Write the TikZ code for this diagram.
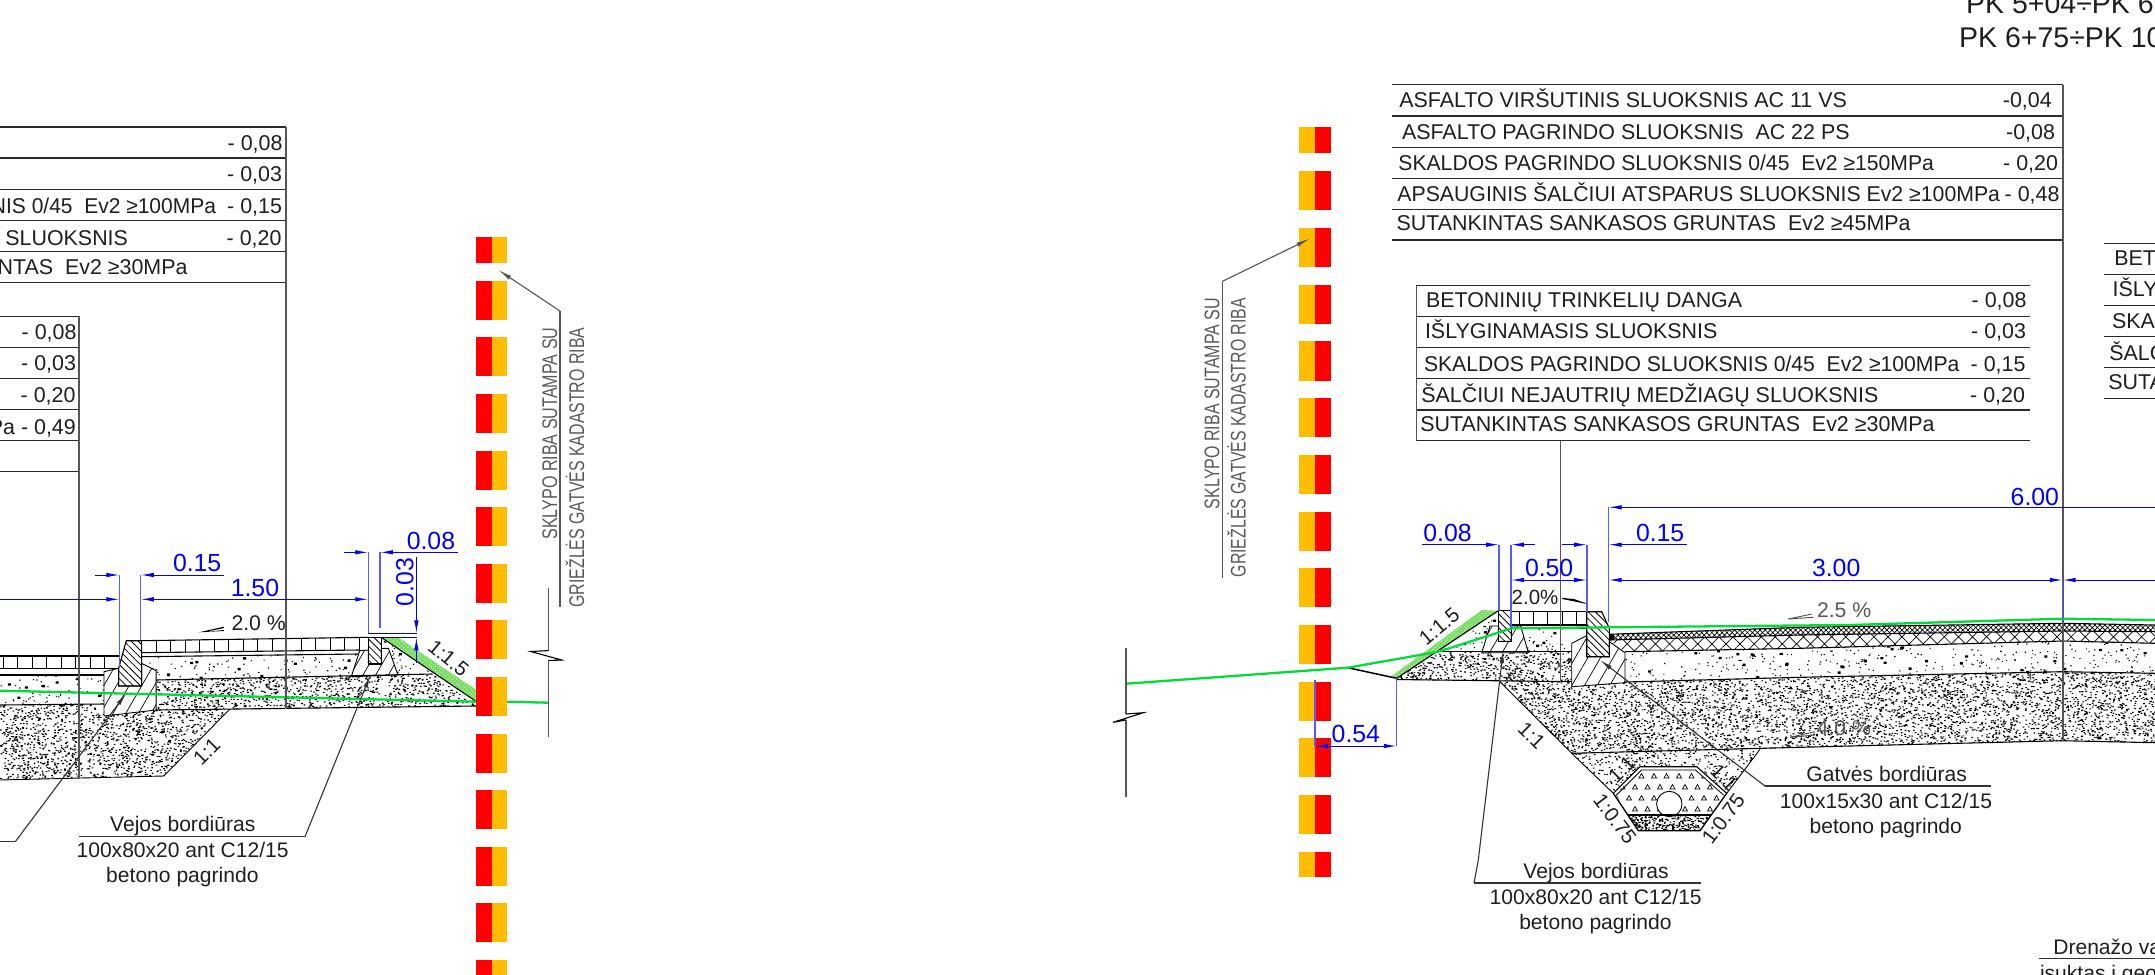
\documentclass[tikz,border=0pt]{standalone}
\usepackage{fontspec}
\usepackage{graphicx}
\setmainfont{Liberation Sans}
\usetikzlibrary{arrows.meta,patterns.meta}
\definecolor{gtxt}{HTML}{5A5A5A}
\definecolor{kline}{HTML}{2A2A2A}
\definecolor{vline}{HTML}{555555}
\definecolor{lime}{HTML}{00DC3A}
\definecolor{bandg}{HTML}{7ADE64}
\definecolor{stripeO}{HTML}{FFBC00}
\definecolor{dimblue}{HTML}{0000FF}
\tikzset{
 txt/.style={inner sep=0pt,outer sep=0pt,font=\fontsize{21.5}{21.5}\selectfont,text=black!88},
 ktxt/.style={inner sep=0pt,outer sep=0pt,font=\fontsize{21.15}{21.5}\selectfont,text=black!88},
 dimt/.style={inner sep=0pt,outer sep=0pt,font=\fontsize{24.9}{25}\selectfont,text=dimblue},
 slopet/.style={inner sep=0pt,outer sep=0pt,font=\fontsize{20.5}{21}\selectfont,text=black!88},
 gt/.style={inner sep=0pt,outer sep=0pt,font=\fontsize{21.3}{21.3}\selectfont,text=gtxt},
 tline/.style={draw=kline,line width=1.3pt},
 vert/.style={draw=vline,line width=1.5pt},
 outl/.style={draw=black,line width=1.1pt},
 dimln/.style={draw=dimblue,line width=1pt},
 extln/.style={draw=dimblue!65,line width=1.1pt},
 ah/.style={-{Latex[length=13pt,width=4.5pt]}},
 ha/.style={{Latex[length=13pt,width=4.5pt]}-},
 ahh/.style={{Latex[length=13pt,width=4.5pt]}-{Latex[length=13pt,width=4.5pt]}},
 leader/.style={draw=black!80,line width=1.1pt},
 leadg/.style={draw=vline,line width=1.1pt,-{Latex[length=14pt,width=4.5pt]}},
 lime1/.style={draw=lime,line width=2.3pt},
 kerbh/.style={pattern={Lines[angle=-45,distance=5pt,line width=.8pt]},draw=black,line width=1.1pt},
 baseh/.style={pattern={Lines[angle=60,distance=11pt,line width=.7pt]},draw=black,line width=.9pt},
 fineX/.style={pattern={Hatch[angle=45,distance=3.6pt,line width=.7pt]}},
 coarseX/.style={pattern={Hatch[angle=45,distance=10pt,line width=.7pt]}},
}
% tl: left baseline anchored text; trt: right baseline anchored text
\newcommand\tl[5][txt]{\node[#1,anchor=base west] (#2) at (#3,#4) {#5};}
\newcommand\trt[5][txt]{\node[#1,anchor=base east] (#2) at (#3,#4) {#5};}
\newcommand\spk[7]{% polygon, x,y,w,h, density, dot width
 \begin{scope}\clip #1;
 \pgfmathtruncatemacro\nn{#4*#6*#5/300+1}
 \foreach \jj in {1,...,\nn}{
 \fill[black] \foreach \i in {1,...,300}{({#2+rnd*#4},{#3+rnd*#5}) rectangle ++(#7,1.1)};}
 \end{scope}}
\newcommand\dense[5]{\spk{#1}{#2}{#3}{#4}{#5}{.1}{1.6}}
\newcommand\sparse[5]{%
 \begin{scope}\clip #1;
 \pgfmathtruncatemacro\na{#4*.018*#5+1}
 \pgfmathtruncatemacro\nb{#4*.0022*#5+1}
 \fill[black] \foreach \i in {1,...,\na}{({#2+rnd*#4},{#3+rnd*#5}) rectangle ++(1.2,1.1)};
 \fill[black] \foreach \i in {1,...,\nb}{({#2+rnd*#4},{#3+rnd*#5}) rectangle ++(3,2.4)};
 \end{scope}}
\newcommand\band[1]{\fill[bandg] #1; \fill[pattern={Dots[angle=45,distance=3pt,radius=.6pt]},pattern color=white] #1;}
\begin{document}
\begin{tikzpicture}[x=1bp,y=-1bp]
\useasboundingbox (0,0) rectangle (2155,975);
\clip (0,0) rectangle (2155,975);
\pgfmathsetseed{4242}
\fill[white] (0,0) rectangle (2155,975);

% ---------- stripes right column
\foreach \yy/\hh in {127.2/26.2,171/39.3,227.8/39.3,284.5/39.3,341.2/39.3,398/39.3,454.7/39.3,511.5/39.3,568.3/39,625/39,681.7/39,738.3/39,795/39,851.7/25.5}{
 \fill[stripeO] (1299.3,\yy) rectangle (1315.3,\yy+\hh);
 \fill[red] (1315.3,\yy) rectangle (1330.7,\yy+\hh);
}
% ---------- left section fills
\dense{(0,705)--(104,704)--(104,716)--(156.1,710)--(229.6,709.3)--(163.8,776)--(0,780)--cycle}{0}{704}{230}{76}
\dense{(156.1,680)--(432.5,674)--(476.5,706)--(156.1,710)--cycle}{156}{674}{321}{36}
\sparse{(0,675)--(103.5,675)--(103.5,704)--(0,705)--cycle}{0}{675}{104}{30}
\sparse{(141.6,656.7)--(358,654)--(351.3,676.7)--(156.1,680)--(156.1,670.7)--(141.6,663.3)--cycle}{141}{654}{218}{27}
\sparse{(383,640)--(432.5,674)--(398,675)--(388.4,648.3)--cycle}{383}{640}{50}{36}
\band{(381.2,637.3)--(398,637.3)--(476.5,690)--(476.5,701.7)--cycle}
% outlines left
\draw[baseh] (104,671.7)--(118.6,668.3)--(118.6,686)--(141.6,686)--(141.6,663.3)--(156.1,670.7)--(156.1,710)--(104,716)--cycle;
\draw[kerbh] (118.6,668.3)--(126.3,640.7)--(141.6,640.7)--(141.6,686)--(118.6,686)--cycle;
\draw[outl] (0,656)--(118.6,656);
\draw[outl] (0,668.7)--(118.6,668.7);
\foreach \xx in {3,17.5,...,118}{\draw[black,line width=.8pt] (\xx,656)--(\xx,668.7);}
\draw[outl] (0,675)--(103.5,675);
\draw[outl] (0,705)--(104,704);
\draw[outl] (141.6,640.7)--(368.2,637.3);
\draw[outl] (141.6,652.7)--(359.7,650);
\draw[outl] (141.6,656.7)--(358,654);
\foreach \xx in {156,170.5,...,362}{\draw[black,line width=.8pt] (\xx,{640.7-0.015*(\xx-141.6)})--(\xx,{652.7-0.0124*(\xx-141.6)});}
\draw[outl] (156.1,680)--(432.5,674);
\draw[outl] (156.1,710)--(476.5,706);
\draw[baseh] (351.3,676.7)--(359.7,650.7)--(368.2,650)--(368.2,664)--(381.2,664)--(381.2,648.5)--(388.4,648.3)--(398,675)--cycle;
\draw[kerbh] (368.2,637.3)--(381.2,637.3)--(381.2,664)--(368.2,664)--cycle;
\draw[outl] (381.2,637.3)--(476.5,701.7);
\draw[black,line width=.9pt] (0,780)--(163.8,776)--(229.6,709.3);
\draw[lime1] (0,690.7)--(476.5,701.7);
\draw[lime1] (507,701.7)--(548,702.7);
% left stripes
\foreach \yy/\hh in {237.2/26,280.8/39,337.4/39,394/39,450.6/39,507.2/39,563.8/39,620.4/39,677/39,733.6/39,790.2/39,846.8/39,903.4/39,960/39}{
 \fill[red] (476,\yy) rectangle (491.7,\yy+\hh);
 \fill[stripeO] (491.7,\yy) rectangle (507.3,\yy+\hh);
}
% ---------- left tables
\foreach \yy in {127,158,189.3,220.7,251.7,282.7}{\draw[tline] (0,\yy)--(286,\yy);}
\foreach \yy in {316.3,347.3,378.7,409.7,440.7,471.7}{\draw[tline] (0,\yy)--(79,\yy);}
\draw[vert] (286,127)--(286,709);
\draw[vert] (79,316.3)--(79,778);
\trt{lv1}{282.5}{150.7}{- 0,08}
\trt{lv2}{282}{181.3}{- 0,03}
\trt{lt3}{216}{213.3}{\scalebox{.98}[1]{NIS 0/45\ \ Ev2 ≥100MPa}}
\trt{lv3}{282}{213.3}{- 0,15}
\trt{lt4}{128}{245}{Ų SLUOKSNIS}
\trt{lv4}{281.5}{245}{- 0,20}
\trt{lt5}{187.5}{274}{NTAS\ \ Ev2 ≥30MPa}
\trt{sv1}{76.5}{339}{- 0,08}
\trt{sv2}{76}{370}{- 0,03}
\trt{sv3}{75.5}{402.3}{- 0,20}
\trt{sv4}{75.8}{434.3}{Pa - 0,49}
% left dims
\draw[extln] (119.4,575)--(119.4,668);
\draw[extln] (140.8,575)--(140.8,640);
\draw[extln] (368.2,552.3)--(368.2,633);
\draw[extln] (380,552.3)--(380,628.3);
\draw[dimln,ah] (94.5,575)--(119.4,575);
\draw[dimln,ha] (140.8,575)--(223.9,575);
\draw[dimln,ah] (0,599.3)--(119.4,599.3);
\draw[dimln,ahh] (140.8,599.3)--(368.2,599.3);
\draw[dimln,ah] (343.7,552.3)--(368.2,552.3);
\draw[dimln,ha] (380,552.3)--(458,552.3);
\draw[dimln,ah] (416.4,556.7)--(416.4,633.3);
\draw[dimln,ha] (416.4,637.3)--(416.4,663.3);
\draw[dimln] (368.2,633.3)--(417,633.3);
\draw[dimln] (381,637.3)--(417,637.3);
\tl[dimt]{ld1}{173}{571.7}{0.15}
\tl[dimt]{ld2}{230.8}{596.7}{1.50}
\tl[dimt]{ld3}{406.8}{549}{0.08}
\node[dimt,rotate=90,anchor=base west] (ld4) at (413.3,606) {0.03};
\tl{lp1}{231.5}{630.7}{\fontsize{21.3}{21}\selectfont 2.0 \%}
\fill[black] (199,632.3)--(223.9,626.7)--(223.9,628)--(205,632)--(223.9,630)--(223.9,631)--cycle;
\node[slopet,rotate=-40] (ls1) at (448.5,658.3) {1:1.5};
\node[slopet,rotate=45] (ls2) at (206.7,751.7) {1:1};
% left leaders
\draw[leader] (78.5,836.7)--(305,836.7);
\draw[leader,-{Latex[length=13pt,width=4.5pt]}] (305,836.7)--(370.4,675);
\draw[leader] (0,841.7)--(15.3,841.7);
\draw[leader,-{Latex[length=13pt,width=4.5pt]}] (15.3,841.7)--(126.3,693.3);
\node[ktxt,anchor=base] (lk1) at (182.8,831.7) {Vejos bordiūras};
\node[ktxt,anchor=base] (lk2) at (182.6,857.3) {100x80x20 ant C12/15};
\node[ktxt,anchor=base] (lk3) at (182.4,882.3) {betono pagrindo};
% left property note
\draw[leadg] (560,311)--(498.3,270);
\draw[draw=vline,line width=1.4pt] (560,311)--(560,606.6);
\node[gt,rotate=90,anchor=base west] (lg1) at (557,539.6) {\resizebox{212bp}{\height}{SKLYPO RIBA SUTAMPA SU}};
\node[gt,rotate=90,anchor=base west] (lg2) at (584,607.6) {\resizebox{280bp}{\height}{GRIEŽLĖS GATVĖS KADASTRO RIBA}};
\draw[draw=vline,line width=1.4pt] (548.3,587.5)--(548.3,650.6);
\draw[black,line width=1.1pt] (548.3,650.6)--(530.7,651.5)--(561.7,660)--(548.3,660.5);
\draw[draw=vline,line width=1.4pt] (548.3,660.5)--(548.3,736.7);

% ---------- right section fills
\dense{(1396.7,678.3)--(1440,651.7)--(1571.7,651.7)--(1571.7,681.7)--(1396.7,680)--cycle}{1396}{651}{176}{31}
\sparse{(1440,651.7)--(1498.3,610.7)--(1498.3,651.7)--cycle}{1440}{610}{60}{42}
\sparse{(1511.3,628)--(1571.7,628)--(1571.7,643.3)--(1571.7,651.7)--(1528.3,651.7)--cycle}{1511}{628}{62}{24}
\dense{(1498.3,680.5)--(1571.7,681.7)--(1571.7,686.7)--(1625,682.7)--(1800,677.3)--(2062.7,671.7)--(2155,673.3)--(2155,742.7)--(2062.7,740.7)--(1850,746)--(1571.7,753.3)--cycle}{1498}{671}{657}{83}
\spk{(1571.7,753.3)--(1760,749.3)--(1726.7,793.3)--(1613.3,793.3)--cycle}{1571}{749}{190}{45}{.055}{1.5}
\sparse{(1625,651.7)--(1800,648.3)--(2062.7,641)--(2155,643.3)--(2155,673.3)--(2062.7,671.7)--(1800,677.3)--(1625,682)--cycle}{1625}{641}{530}{42}
\fill[white] (1613.3,793.3)--(1640,766.7)--(1696.7,766.7)--(1726.7,793.3)--(1700,830.7)--(1638.3,830.7)--cycle;
\spk{(1628,815)--(1711,815)--(1700,830.7)--(1638.3,830.7)--cycle}{1628}{815}{84}{16}{.1}{1.6}
\begin{scope}
 \clip (1615,793.3)--(1642,770.5)--(1694,770.5)--(1725,793.3)--(1711,815)--(1628,815)--cycle;
 \foreach \ro in {0,1,2,3}{\foreach \co in {0,...,9}{
  \pgfmathsetmacro\tx{1614+\co*12.5+mod(\ro,2)*6}
  \pgfmathsetmacro\ty{778+\ro*11}
  \draw[black,line width=.7pt] (\tx,\ty)--(\tx+5,\ty)--(\tx+2.5,\ty-4.5)--cycle;}}
\end{scope}
\fill[white] (1669.3,804) circle[radius=12.7];
\draw[black,line width=.9pt] (1669.3,804) circle[radius=12.7];
\draw[outl] (1613.3,793.3)--(1640,766.7)--(1696.7,766.7)--(1726.7,793.3)--(1700,830.7)--(1638.3,830.7)--cycle;
\draw[black,line width=.8pt] (1616.5,795)--(1641.5,770)--(1695.5,770)--(1723.5,795);
\draw[outl] (1628,815)--(1711,815);
% green slope band
\band{(1390,677.3)--(1481.7,610)--(1498.3,610.7)--(1396.7,678.3)--cycle}
% road layers
\fill[fineX] (1609.3,634.3)--(1800,627.3)--(2062.7,623.3)--(2155,625)--(2155,631.7)--(2062.7,631)--(1800,635)--(1609.3,640)--cycle;
\fill[coarseX] (1609.3,640)--(1800,635)--(2062.7,631)--(2155,631.7)--(2155,643.3)--(2062.7,641)--(1800,648.3)--(1625,651.7)--cycle;
\draw[outl] (1609.3,634.3)--(1800,627.3)--(2062.7,623.3)--(2155,625);
\draw[outl] (1609.3,640)--(1800,635)--(2062.7,631)--(2155,631.7);
\draw[outl] (1625,651.7)--(1800,648.3)--(2062.7,641)--(2155,643.3);
\draw[outl] (1625,682)--(1800,677.3)--(2062.7,671.7)--(2155,673.3);
\draw[outl] (1571.7,753.3)--(1850,746)--(2062.7,740.7)--(2155,742.7);
\fill[black] (1610,635) rectangle (1614,640);
% kerbs
\fill[white] (1571.7,643.3)--(1586.7,635.7)--(1586.7,656.7)--(1609.3,656.7)--(1609.3,641.7)--(1625,652.7)--(1625,682.7)--(1571.7,686.7)--cycle;
\draw[baseh] (1571.7,643.3)--(1586.7,635.7)--(1586.7,656.7)--(1609.3,656.7)--(1609.3,641.7)--(1625,652.7)--(1625,682.7)--(1571.7,686.7)--cycle;
\draw[kerbh] (1586.7,611.7)--(1601.7,611.7)--(1609.3,628.3)--(1609.3,656.7)--(1586.7,656.7)--cycle;
\draw[outl] (1511.3,611.7)--(1586.7,611.7);
\draw[outl] (1511.3,625)--(1586.7,625);
\foreach \xx in {1519,1533.3,1547.7,1562.3,1576.7}{\draw[black,line width=.8pt] (\xx,611.7)--(\xx,625);}
\draw[outl] (1511.3,628)--(1586.7,628);
\fill[white] (1481.7,652.7)--(1490,626)--(1520.7,626)--(1528.3,652.7)--cycle;
\draw[baseh] (1481.7,652.7)--(1490,626)--(1498.3,626)--(1498.3,641.3)--(1511.3,641.3)--(1511.3,626)--(1520.7,626)--(1528.3,652.7)--cycle;
\draw[kerbh] (1498.3,610.7)--(1511.3,610.7)--(1511.3,641.3)--(1498.3,641.3)--cycle;
\draw[outl] (1440,651.7)--(1571.7,651.7);
\draw[outl] (1396.7,678.3)--(1498.3,610.7);
\draw[outl] (1396.7,679.5)--(1571.7,681.7);
\draw[black,line width=.9pt] (1498.3,680)--(1571.7,753.3)--(1613.3,793.3)--(1638.3,830.7);
\draw[black,line width=.9pt] (1760,749.3)--(1726.7,793.3)--(1700,830.7);
\draw[black,line width=1.5pt] (1347.7,667.7)--(1396.7,678.3);
% right tables
\foreach \yy in {84.7,116,147.3,178.3,209.3,240}{\draw[tline] (1391.5,\yy)--(2062.8,\yy);}
\draw[vert] (2062.8,84.7)--(2062.8,740.7);
\foreach \yy in {285.7,316.7,347.3,378.7,410,440.7}{\draw[tline] (1416.3,\yy)--(2029.7,\yy);}
\draw[vert] (1416.3,285.7)--(1416.3,440.7);
\draw[vert] (1560.7,440.7)--(1560.7,681.7);
\foreach \yy in {243.7,274.7,305.7,336.7,367.7,398.7}{\draw[tline] (2104.3,\yy)--(2155,\yy);}
\tl{a1}{1399.3}{107.7}{ASFALTO VIRŠUTINIS SLUOKSNIS AC 11 VS}
\trt{a1v}{2051.7}{107.7}{-0,04}
\tl{a2}{1402}{139.3}{ASFALTO PAGRINDO SLUOKSNIS\ \ AC 22 PS}
\trt{a2v}{2055}{139.3}{-0,08}
\tl{a3}{1398.4}{170}{\resizebox{535.6bp}{\height}{SKALDOS PAGRINDO SLUOKSNIS 0/45\ \ Ev2 ≥150MPa}}
\trt{a3v}{2058}{170}{- 0,20}
\tl{a4}{1397.4}{201.7}{\resizebox{602.6bp}{\height}{APSAUGINIS ŠALČIUI ATSPARUS SLUOKSNIS Ev2 ≥100MPa}}
\trt{a4v}{2059.5}{201.7}{- 0,48}
\tl{a5}{1396.5}{230.7}{SUTANKINTAS SANKASOS GRUNTAS\ \ Ev2 ≥45MPa}
\tl{b1}{1426}{307.7}{BETONINIŲ TRINKELIŲ DANGA}
\trt{b1v}{2026.5}{307.7}{- 0,08}
\tl{b2}{1425}{338.7}{IŠLYGINAMASIS SLUOKSNIS}
\trt{b2v}{2026}{338.7}{- 0,03}
\tl{b3}{1424}{371.3}{\resizebox{535.4bp}{\height}{SKALDOS PAGRINDO SLUOKSNIS 0/45\ \ Ev2 ≥100MPa}}
\trt{b3v}{2025.5}{371.3}{- 0,15}
\tl{b4}{1421.3}{402.7}{ŠALČIUI NEJAUTRIŲ MEDŽIAGŲ SLUOKSNIS}
\trt{b4v}{2025}{402.7}{- 0,20}
\tl{b5}{1420.4}{431.7}{SUTANKINTAS SANKASOS GRUNTAS\ \ Ev2 ≥30MPa}
\tl{c1}{2114.3}{265.7}{BETO}
\tl{c2}{2112.7}{296.7}{IŠLYG}
\tl{c3}{2112}{328.3}{SKAL}
\tl{c4}{2109.3}{360.7}{ŠALČ}
\tl{c5}{2108.3}{389.3}{SUTAN}
% title
\node[inner sep=0pt,anchor=base west,font=\fontsize{28.6}{28}\selectfont,text=black!88] (h1) at (1966,13.3) {PK 5+04÷PK 6+};
\node[inner sep=0pt,anchor=base west,font=\fontsize{28.6}{28}\selectfont,text=black!88] (h2) at (1959,47.3) {PK 6+75÷PK 10+};
% green line right
\draw[lime1] (1126,683.7)--(1347.7,667.7)--(1438.3,651.7)--(1511.7,628.3)--(1608.3,627.3)--(1850,625)--(2062.7,618.7)--(2155,620);
% right dims
\draw[extln] (1499,544.7)--(1499,610.7);
\draw[extln] (1511,544.7)--(1511,628);
\draw[extln] (1587,544.7)--(1587,611.7);
\draw[extln] (1608.7,507.3)--(1608.7,621.7);
\draw[extln] (2062.7,580)--(2062.7,620);
\draw[dimln,ha] (1608.7,507.3)--(2155,507.3);
\draw[dimln,ah] (1421.7,544.7)--(1499,544.7);
\draw[dimln,ha] (1511,544.7)--(1535,544.7);
\draw[dimln,ah] (1561.7,544.7)--(1587,544.7);
\draw[dimln,ha] (1608.7,544.7)--(1686.7,544.7);
\draw[dimln,ahh] (1511,580)--(1587,580);
\draw[dimln,ahh] (1608.7,580)--(2062.7,580);
\draw[dimln,ha] (2062.7,580)--(2155,580);
\tl[dimt]{r1}{2010.7}{505}{6.00}
\tl[dimt]{r2}{1423.3}{541.7}{0.08}
\tl[dimt]{r3}{1636}{541.7}{0.15}
\tl[dimt]{r4}{1525}{576.7}{0.50}
\tl[dimt]{r5}{1812}{576.7}{3.00}
\tl[dimt]{r6}{1331.7}{742.7}{0.54}
\draw[extln] (1315,680)--(1315,746);
\draw[extln] (1396.7,678.3)--(1396.7,746);
\draw[dimln,ahh] (1315,746)--(1396.7,746);
% percents
\tl{rp1}{1511.7}{604}{\fontsize{20.6}{21}\selectfont 2.0\%}
\fill[black] (1562,598.5)--(1585.7,603.3)--(1574,599)--(1563,598)--cycle;
\draw[black,line width=.8pt] (1562,598.5)--(1585.7,603.3);
\tl[gt]{rp2}{1817}{617.5}{2.5 \%}
\draw[black!70,line width=.9pt] (1788.3,619)--(1813.3,617.3);
\draw[black!70,line width=.9pt] (1788.3,619)--(1811.7,614);
\tl[gt]{rp3}{1816.7}{735}{4.0 \%}
\draw[black!70,line width=.9pt] (1790,737.3)--(1815,735);
\draw[black!70,line width=.9pt] (1790,737.3)--(1815,731.7);
% slope labels
\node[slopet,rotate=40] (s1) at (1439.3,626.7) {1:1.5};
\node[slopet,rotate=-45] (s2) at (1531.7,736) {1:1};
\node[slopet,rotate=45] (s3) at (1621.7,769.3) {1:1};
\node[slopet,rotate=-45] (s4) at (1724,777.3) {1:1};
\node[slopet,rotate=-53] (s5) at (1615,819) {1:0.75};
\node[slopet,rotate=53] (s6) at (1723.3,819) {1:0.75};
% right leaders
\draw[leader] (1765,786)--(1991,786);
\draw[leader,-{Latex[length=13pt,width=4.5pt]}] (1765,786)--(1600,660);
\draw[leader] (1474,883)--(1701,883);
\draw[leader] (1474,883)--(1478.3,860);
\draw[leader,-{Latex[length=13pt,width=4.5pt]}] (1478.3,860)--(1503.3,650);
\node[ktxt,anchor=base] (k1) at (1886.7,781.7) {Gatvės bordiūras};
\node[ktxt,anchor=base] (k2) at (1886,808.3) {100x15x30 ant C12/15};
\node[ktxt,anchor=base] (k3) at (1885.8,833.3) {betono pagrindo};
\node[ktxt,anchor=base] (k4) at (1596,878.4) {Vejos bordiūras};
\node[ktxt,anchor=base] (k5) at (1595.7,904) {100x80x20 ant C12/15};
\node[ktxt,anchor=base] (k6) at (1595.4,929) {betono pagrindo};
\draw[leader] (2039.3,958.7)--(2155,958.7);
\tl[ktxt]{d1}{2053.3}{954.3}{Drenažo vamzdis}
\tl[ktxt]{d2}{2040}{980}{įsuktas į geotekstilę}
% right property note
\draw[leadg] (1222.3,281.4)--(1310,238.6);
\draw[draw=vline,line width=1.4pt] (1222.3,281.4)--(1222.3,578.3);
\node[gt,rotate=90,anchor=base west] (g1) at (1219.3,509) {\resizebox{211bp}{\height}{SKLYPO RIBA SUTAMPA SU}};
\node[gt,rotate=90,anchor=base west] (g2) at (1245.7,577.2) {\resizebox{279bp}{\height}{GRIEŽLĖS GATVĖS KADASTRO RIBA}};
% break line right
\draw[draw=vline,line width=1.4pt] (1126,648.3)--(1126,714);
\draw[black,line width=1.1pt] (1126,714)--(1143.3,712.7)--(1113,722.3)--(1126,720);
\draw[draw=vline,line width=1.4pt] (1126,720)--(1126,797);
\end{tikzpicture}
\end{document}
